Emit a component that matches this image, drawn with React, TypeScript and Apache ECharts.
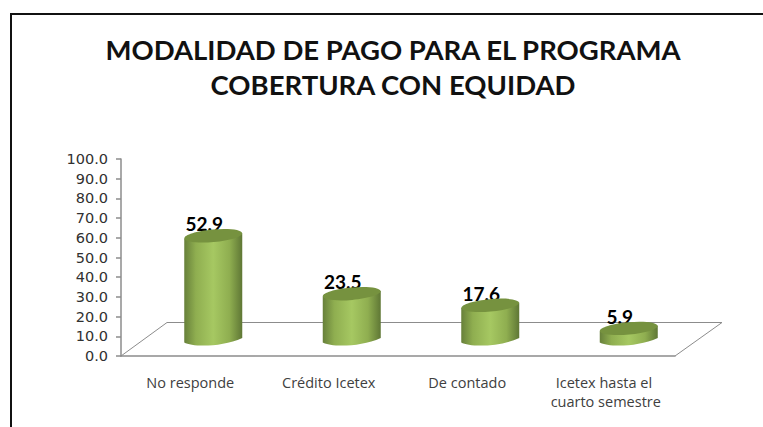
import React, { useEffect, useRef } from "react";
import * as echarts from "echarts";

const categories = ["No responde", "Crédito Icetex", "De contado", "Icetex hasta el cuarto semestre"];
const values = [52.9, 23.5, 17.6, 5.9];
const titleLines = ["MODALIDAD DE PAGO PARA EL PROGRAMA", "COBERTURA CON EQUIDAD"];

const DX = 23, DY = -16, HALF_W = 29, RY = 6.2, TILT = 0.09;

function renderBar(_params: any, api: any) {
  const cat = api.value(0);
  const val = api.value(1);
  const top = api.coord([cat, val]);
  const base = api.coord([cat, 0]);
  const cx = top[0] + DX;
  const ty = top[1] + DY;
  const by = base[1] + DY;
  const lift = HALF_W * TILT;
  const body =
    `M${cx - HALF_W},${ty + lift} L${cx - HALF_W},${by + 2.5} ` +
    `C${cx - HALF_W + 8},${by + 7} ${cx + 8},${by + 7.5} ${cx + HALF_W},${by - 2} ` +
    `L${cx + HALF_W},${ty - lift} Z`;
  const gradient = new echarts.graphic.LinearGradient(0, 0, 1, 0, [
    { offset: 0, color: "#67803a" },
    { offset: 0.2, color: "#8fae50" },
    { offset: 0.5, color: "#a6c862" },
    { offset: 0.78, color: "#8fae50" },
    { offset: 1, color: "#5f7735" },
  ]);
  return {
    type: "group",
    children: [
      { type: "text", x: cx - 9, y: ty - 12, style: { text: val.toFixed(1), font: "bold 19px Lato", fill: "#000", align: "center", verticalAlign: "middle" } },
      { type: "path", shape: { pathData: body, layout: "cover", x: cx - HALF_W, y: ty - lift, width: HALF_W * 2, height: by + 5.6 - ty + lift }, style: { fill: gradient } },
      { type: "ellipse", x: cx, y: ty, rotation: TILT, shape: { cx: 0, cy: 0, rx: HALF_W, ry: RY }, style: { fill: "#76923f" } },
    ],
  };
}

export default function App() {
  const ref = useRef<HTMLDivElement>(null);
  useEffect(() => {
    const chart = echarts.init(ref.current!, undefined, { renderer: "svg" });
    chart.setOption({
      animation: false,
      backgroundColor: "#fff",
      grid: { left: 121, top: 159, width: 554, height: 197 },
      title: {
        text: titleLines.join("\n"),
        left: 388, top: 27, textAlign: "center",
        textStyle: { fontFamily: "Lato", fontWeight: "bold", fontSize: 27.5, lineHeight: 35, color: "#111" },
      },
      xAxis: {
        type: "category", data: categories,
        axisLine: { lineStyle: { color: "#8c8c8c", width: 1.5 } },
        axisTick: { length: 5, lineStyle: { color: "#8c8c8c", width: 1.5 } },
        axisLabel: { interval: 0, margin: 17, width: 125, overflow: "break", fontFamily: "Open Sans", fontSize: 14.5, lineHeight: 19, color: "#404040" },
      },
      yAxis: {
        type: "value", min: 0, max: 100, interval: 10,
        splitLine: { show: false },
        axisLine: { show: true, lineStyle: { color: "#8c8c8c", width: 1.5 } },
        axisTick: { show: true, length: 5, lineStyle: { color: "#8c8c8c", width: 1.5 } },
        axisLabel: { margin: 13, fontFamily: "DejaVu Sans", fontSize: 14.5, lineHeight: 16, color: "#303030", formatter: (v: number) => v.toFixed(1) },
      },
      graphic: [
        { type: "polyline", z: 0, shape: { points: [[11, 427], [11, 14], [763, 14]] }, style: { stroke: "#111", lineWidth: 2, fill: "none" } },
        { type: "polyline", z: 0, shape: { points: [[121, 356], [167, 322.5], [722, 322.5], [675, 356]] }, style: { stroke: "#8c8c8c", lineWidth: 1, fill: "none" } },
      ],
      series: [{
        type: "custom", z: 5, renderItem: renderBar, clip: false,
        encode: { x: 0, y: 1 },
        data: categories.map((_, i) => [i, values[i]]),
      }],
    });
    return () => chart.dispose();
  }, []);
  return <div ref={ref} style={{ position: "fixed", left: 0, top: 0, width: 763, height: 427 }} />;
}
